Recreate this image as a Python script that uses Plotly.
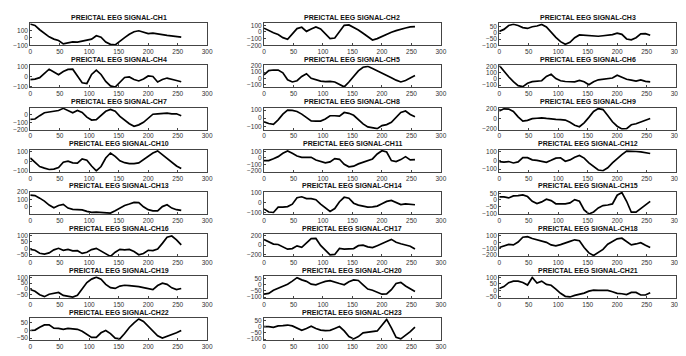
import plotly.graph_objects as go

# sample index (every 8th sample of the 256-sample window)
X = list(range(0, 257, 8))

CH1 = [190, 170, 112, 60, 15, -15, -35, -80, -65, -52, -55, -45, -32, -15, 30, 10, -56, -87, -95, -40, 5, 50, 85, 98, 80, 60, 65, 60, 45, 35, 30, 20, 12]
CH2 = [57, 18, -12, -38, -85, -110, -30, 50, 70, 9, 45, 75, 45, -35, -100, -90, 0, 100, 105, 70, 30, -20, -75, -120, -100, -65, -35, -5, 20, 45, 60, 75, 80]
CH3 = [14, 30, 62, 72, 62, 45, 38, 52, 58, 70, 50, 5, -35, -70, -92, -75, -38, -15, -18, -22, -26, -26, -22, -18, -13, 0, -10, -48, -55, -38, -7, -5, -18]
CH4 = [-31, -27, -12, 30, 72, 45, 18, 50, 70, 72, 0, -63, -70, 20, 63, 20, -50, -94, -105, -60, -10, -5, -30, -45, -25, 5, 0, -55, -30, -16, -25, -40, -53]
CH5 = [56, 125, 135, 135, 90, -25, -60, -40, 30, 75, 0, -30, -47, -55, -50, -60, -100, -140, -60, 30, 120, 180, 195, 160, 125, 90, 55, 10, -30, -60, -35, 5, 45]
CH6 = [220, 125, 35, -45, -110, -125, -70, -45, -35, -30, 40, 75, 5, -30, -42, -47, -47, -25, -45, -95, -45, -15, -5, 5, 15, 60, 30, -5, -20, -35, -15, -40, -47]
CH7 = [-60, -55, -10, 30, 40, 50, 60, 90, 55, 30, 60, 35, -30, -70, -65, -5, 50, 75, 50, -20, -70, -120, -155, -135, -100, -50, 10, 15, 25, 25, 15, 15, -10]
CH8 = [-45, -65, -75, -20, 50, 100, 95, 82, 50, 10, -33, -36, -36, -10, 30, 30, 25, 70, 60, 35, -20, -70, -107, -120, -128, -90, -78, -50, 10, 70, 88, 45, 18]
CH9 = [160, 205, 200, 150, 40, -47, -30, 5, 12, 20, 8, -5, -10, -14, -25, -70, -130, -160, -80, 30, 150, 210, 190, 70, -60, -150, -205, -200, -120, -100, -61, -35, 8]
CH10 = [34, -15, -55, -72, -86, -82, -65, -10, 0, -17, -20, 25, 10, -50, -100, -55, 34, 86, 51, 5, -15, -25, -25, -17, 17, 51, 85, 108, 70, 30, -10, -50, -76]
CH11 = [-40, -40, -12, 20, 70, 105, 70, 30, 10, 5, 10, -30, -55, -75, -60, -10, -20, -95, -135, -125, -90, -65, -45, -15, 60, 110, 90, -40, -55, -25, 20, -30, -25]
CH12 = [-14, -20, -14, -30, -18, 30, 30, 5, 0, -15, -22, 0, 25, 29, -10, 5, 35, 55, 25, -30, -70, -110, -118, -85, -30, 20, 65, 105, 105, 100, 95, 85, 77]
CH13 = [156, 150, 115, 75, 21, -15, 15, 30, -20, -37, -40, -45, -65, -78, -76, -80, -82, -88, -55, -15, 15, 35, 58, 55, -3, -42, -58, -58, 0, 25, -20, -42, -52]
CH14 = [-63, -95, -100, -46, -46, -40, -15, 50, 60, 41, 41, 30, -15, -55, -90, -60, 10, 55, 45, -5, -25, -35, -45, -42, -35, -10, 13, 23, 0, -20, -12, -18, -21]
CH15 = [22, 22, 15, 30, 32, 38, 25, -10, -27, -15, 5, -5, -29, -29, -29, -22, 2, -10, -75, -105, -90, -60, -42, -38, -30, 35, 55, -10, -92, -92, -65, -35, -11]
CH16 = [-8, -15, -38, -44, -35, -12, 0, -15, -8, -20, -18, -39, -30, -10, 0, -20, -44, -62, -30, -8, -12, -8, -25, -50, -40, -15, -18, -5, 38, 85, 95, 65, 26]
CH17 = [118, 75, 22, 15, -30, -82, -70, -14, -45, 39, 135, 140, -5, -100, -199, -190, -67, -80, -80, -70, -10, 0, -35, -50, -10, 40, 75, 120, 60, 30, 10, -20, -80]
CH18 = [-80, -50, -32, -40, 5, 80, 90, 60, 40, 10, 0, -40, -55, -35, -5, 15, 40, 25, -80, -165, -205, -160, -110, -30, 15, 55, 65, 5, -40, -25, -5, -45, -80]
CH19 = [-5, -20, -50, -66, -45, -35, -30, -55, -60, -70, -55, 4, 55, 85, 102, 85, 40, 12, 5, 25, 32, 28, 25, 20, 12, 5, -5, 30, 50, 40, 10, -5, 4]
CH20 = [-77, -70, -45, -28, -15, 5, 30, 58, 40, 28, 5, 0, 15, 28, 34, 25, 10, 0, 25, 40, 35, 0, -35, -45, -63, -77, -75, -40, 10, 20, -10, -30, -55]
CH21 = [15, 30, 60, 72, 72, 62, 42, 100, 57, 72, 47, 40, 10, -22, -45, -50, -38, -30, -20, -5, 2, 0, 2, 0, -10, -22, -25, -32, -15, -15, -35, -35, -17]
CH22 = [0, 3, 22, 37, 37, 15, 14, 8, 14, 10, 8, -5, -25, -45, -45, -15, 0, -20, -50, -55, -20, 20, 50, 76, 60, 30, -5, -35, -50, -40, -30, -15, 0]
CH23 = [0, 0, -6, 5, 8, 12, 5, -15, -30, -15, 2, -15, -28, -32, -30, -15, 0, -35, -80, -98, -80, -50, -45, -43, -35, 10, 57, -10, -85, -98, -70, -40, -5]

channels = [CH1, CH2, CH3, CH4, CH5, CH6, CH7, CH8, CH9, CH10, CH11, CH12,
            CH13, CH14, CH15, CH16, CH17, CH18, CH19, CH20, CH21, CH22, CH23]
titles = ["PREICTAL EEG SIGNAL-CH%d" % (i + 1) for i in range(23)]

X_TICKS = [0, 50, 100, 150, 200, 250, 300]

Y_RANGES = [[-100, 200], [-200, 130], [-100, 80], [-110, 110], [-150, 210], [-140, 220],
            [-200, 100], [-140, 130], [-220, 230], [-110, 120], [-210, 125], [-130, 120],
            [-100, 200], [-115, 110], [-105, 60], [-60, 110], [-225, 230], [-215, 130],
            [-80, 110], [-110, 70], [-60, 110], [-65, 80], [-110, 65]]
Y_TICKS = [[-100, 0, 100], [-200, -100, 0, 100], [-100, -50, 0, 50], [-100, 0, 100],
           [-100, 0, 100, 200], [-100, 0, 100, 200], [-200, -100, 0], [-100, 0, 100],
           [-200, 0, 200], [-100, 0, 100], [-200, -100, 0, 100], [-100, 0, 100],
           [0, 100, 200], [-100, 0, 100], [-100, -50, 0, 50], [-50, 0, 50, 100],
           [-200, 0, 200], [-200, -100, 0, 100], [-50, 0, 50, 100], [-100, -50, 0, 50],
           [-50, 0, 50, 100], [-50, 0, 50], [-100, -50, 0, 50]]

W, H = 686, 356
col_left = [20.5, 257.0, 495.0]
col_w = 179.0
row_top0 = 11.5
pitch = 43.0
box_h = 22.5
FONT = "Liberation Sans, Arial, sans-serif"

fig = go.Figure()
annotations = []
layout_axes = {}
for i, (vals, title) in enumerate(zip(channels, titles)):
    r, c = divmod(i, 3)
    k = i + 1
    sx = "" if k == 1 else str(k)
    x0 = col_left[c]
    x1 = x0 + col_w
    yt = row_top0 + r * pitch
    yb = yt + box_h
    fig.add_trace(go.Scatter(x=X, y=vals, mode="lines",
                             line=dict(color="black", width=1.7),
                             xaxis="x" + sx, yaxis="y" + sx,
                             showlegend=False, hoverinfo="skip"))
    common = dict(showline=True, mirror=True, linecolor="#444", linewidth=1,
                  ticks="inside", ticklen=2, tickcolor="#444", showgrid=False,
                  zeroline=False, tickfont=dict(family=FONT, size=6.5, color="#333"))
    layout_axes["xaxis" + sx] = dict(domain=[x0 / W, x1 / W], anchor="y" + sx,
                                     range=[0, 300], tickvals=X_TICKS, **common)
    layout_axes["yaxis" + sx] = dict(domain=[1 - yb / H, 1 - yt / H], anchor="x" + sx,
                                     range=Y_RANGES[i], tickvals=Y_TICKS[i], **common)
    annotations.append(dict(x=(x0 + x1) / 2 / W, y=1 - (yt - 0.5) / H, xref="paper", yref="paper",
                            xanchor="center", yanchor="bottom", showarrow=False,
                            text="<b>" + title + "</b>",
                            font=dict(family=FONT, size=7, color="#111")))

fig.update_layout(width=W, height=H, margin=dict(l=0, r=0, t=0, b=0),
                  paper_bgcolor="white", plot_bgcolor="white",
                  annotations=annotations, **layout_axes)
fig.write_html("out.html")
